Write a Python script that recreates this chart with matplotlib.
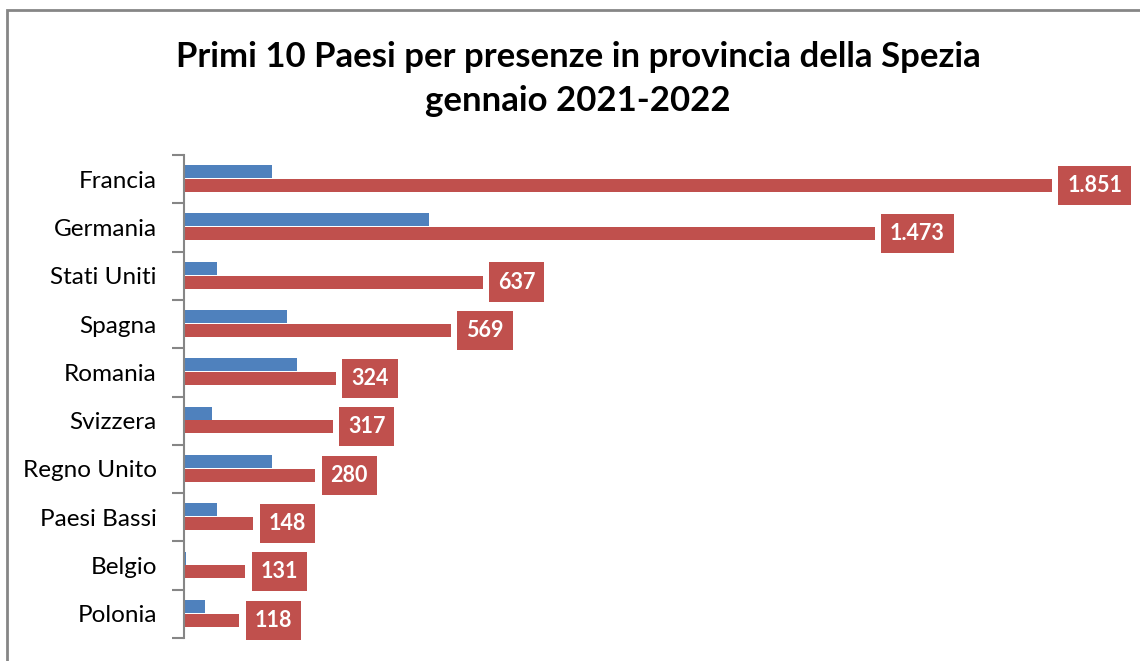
import matplotlib.pyplot as plt
from matplotlib.patches import Rectangle

plt.rcParams['font.family'] = ['Lato', 'DejaVu Sans']

paesi = ['Francia', 'Germania', 'Stati Uniti', 'Spagna', 'Romania',
         'Svizzera', 'Regno Unito', 'Paesi Bassi', 'Belgio', 'Polonia']
val_2021 = [188, 522, 70, 220, 241, 60, 188, 70, 4, 45]
val_2022 = [1851, 1473, 637, 569, 324, 317, 280, 148, 131, 118]
etichette = ['1.851', '1.473', '637', '569', '324', '317', '280', '148', '131', '118']

blu = '#4F81BD'
rosso = '#C0504D'

fig = plt.figure(figsize=(11.4, 6.61), dpi=100)
ax = fig.add_axes([184 / 1140, 1 - 638 / 661, (1140 - 184) / 1140, (638 - 155) / 661])

y = range(len(paesi))
h = 0.27
ax.barh([i - 0.155 for i in y], val_2021, height=h, color=blu)
ax.barh([i + 0.13 for i in y], val_2022, height=h, color=rosso)

for i, (v, t) in enumerate(zip(val_2022, etichette)):
    ax.annotate(t, (v, i + 0.13), xytext=(11, 0), textcoords='offset points',
                ha='left', va='center', color='white', fontsize=15.5, fontweight='bold',
                bbox=dict(boxstyle='square,pad=0.42', fc=rosso, ec='none'))

ax.set_xlim(0, 2039)
ax.set_ylim(9.5, -0.5)
ax.set_yticks(list(y))
ax.set_yticklabels(paesi, fontsize=17.5)
ax.set_yticks([i - 0.5 for i in range(len(paesi) + 1)], minor=True)
ax.tick_params(axis='y', which='major', length=0, pad=19.5)
ax.tick_params(axis='y', which='minor', length=9, color='#868686', width=1.5)
ax.get_xaxis().set_visible(False)
for s in ['top', 'right', 'bottom']:
    ax.spines[s].set_visible(False)
ax.spines['left'].set_color('#868686')
ax.spines['left'].set_linewidth(1.5)

fig.text(578 / 1140, 1 - 79 / 661, 'Primi 10 Paesi per presenze in provincia della Spezia\ngennaio 2021-2022',
         ha='center', va='center', fontsize=25, fontweight='bold', linespacing=1.45)

fig.patches.append(Rectangle((7 / 1140, -0.1), 1.2, 1 - 10 / 661 + 0.1, transform=fig.transFigure,
                             fill=False, ec='#868686', lw=2))

plt.savefig('out.png')
